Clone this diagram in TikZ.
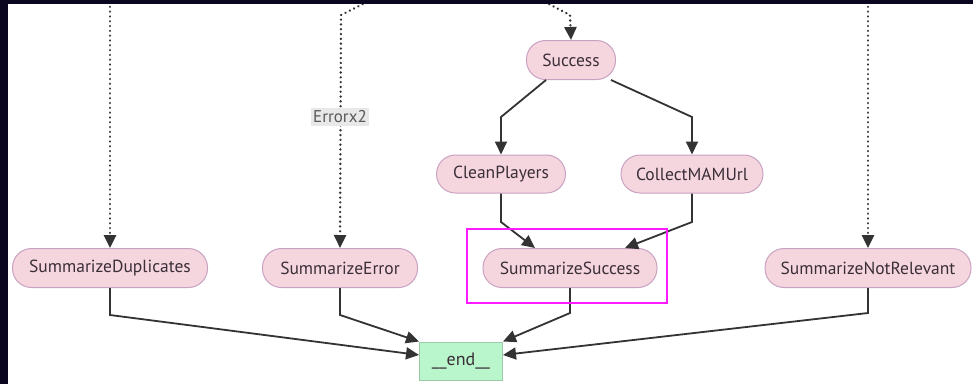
\documentclass[tikz,border=0pt]{standalone}
\usepackage{fontspec}
\setmainfont{PT Sans}
\usetikzlibrary{arrows.meta}
\definecolor{frame}{HTML}{0B0620}
\definecolor{stateFill}{HTML}{F6D6DE}
\definecolor{stateLine}{HTML}{C9A2C2}
\definecolor{endFill}{HTML}{B9F6CC}
\definecolor{endLine}{HTML}{9CC9A9}
\definecolor{edgeCol}{HTML}{333333}
\definecolor{txtCol}{HTML}{3A2E38}
\definecolor{hilite}{HTML}{FF1AFF}
\tikzset{
  state/.style={draw=stateLine, fill=stateFill, line width=1pt,
    rounded corners=19pt, minimum height=39pt, inner sep=0pt,
    text=txtCol, font=\fontsize{17.5}{19}\selectfont},
  endstate/.style={draw=endLine, fill=endFill, line width=1pt,
    minimum width=83pt, minimum height=38pt, inner sep=0pt,
    text=txtCol, font=\fontsize{18}{20}\selectfont},
  flow/.style={draw=edgeCol, line width=1.8pt,
    -{Triangle[length=13pt,width=12pt]}},
  hop/.style={flow, line cap=round, dash pattern=on 0.01pt off 4.8pt, line width=2.6pt},
  tag/.style={fill=gray!18, text=black!65, inner sep=2.5pt,
    font=\fontsize{17}{19}\selectfont}
}
\begin{document}
\begin{tikzpicture}[x=1pt, y=-1pt]
  \useasboundingbox (0,0) rectangle (973,384);
  \fill[white] (0,0) rectangle (973,384);

  % states
  \node[state, minimum width=89pt]  (success) at (571,60)  {Success};
  \node[state, minimum width=129pt, minimum height=38pt] (clean)   at (501,174) {CleanPlayers};
  \node[state, minimum width=142pt, minimum height=38pt] (collect) at (692,174) {CollectMAMUrl};
  \node[state, minimum width=195pt] (dup)    at (110,268) {SummarizeDuplicates};
  \node[state, minimum width=155pt] (err)    at (340,268) {SummarizeError};
  \node[state, minimum width=174pt] (summ)   at (570,268) {SummarizeSuccess};
  \node[state, minimum width=206pt] (notrel) at (868,268) {SummarizeNotRelevant};
  \node[endstate] (end) at (461,361) {\_\_end\_\_};

  % incoming transitions from above
  \coordinate (inDup)  at (110,2);
  \coordinate (inErr)  at (367,2);
  \coordinate (inSucc) at (545,2);
  \coordinate (inNot)  at (868,2);
  \draw[hop] (inDup) -- (dup.north);
  \draw[hop] (inErr) -- (341,15) -- (err.north);
  \draw[hop] (inSucc) -- (570,15) -- (success.north);
  \draw[hop] (inNot) -- (notrel.north);
  \node[tag] (errlabel) at (340,117) {Errorx2};

  % success branch
  \draw[flow] ([xshift=-25pt]success.south) -- (501,117) -- (clean.north);
  \draw[flow] ([xshift=40pt]success.south) -- (692,117) -- (collect.north);
  \draw[flow] (clean.south) -- (501,222) -- ([xshift=-35pt]summ.north);
  \draw[flow] (collect.south) -- (692,222) -- ([xshift=55pt]summ.north);

  % into the end state
  \draw[flow] (dup.south) -- (110,315) -- ([yshift=6pt]end.west);
  \draw[flow] (err.south) -- (340,315) -- (end.north west);
  \draw[flow] (summ.south) -- (570,313) -- (end.north east);
  \draw[flow] (notrel.south) -- (868,313) -- ([yshift=6pt]end.east);

  % highlight box
  \draw[hilite, line width=2.6pt] (467,229) rectangle (667,303);

  % window frame
  \fill[frame] (0,0) rectangle (973,4);
  \fill[frame] (0,0) rectangle (8,384);
\end{tikzpicture}
\end{document}
